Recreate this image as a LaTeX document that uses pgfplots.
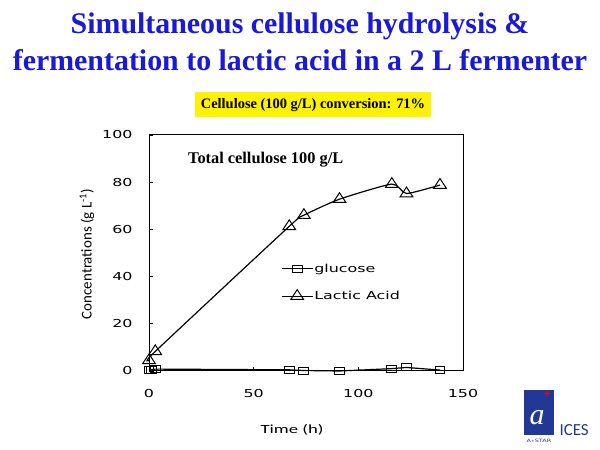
\documentclass[border=0pt]{standalone}
\usepackage{fontspec}
\setmainfont{Liberation Serif}
\newfontfamily\verdw[FakeStretch=1.45]{DejaVu Sans}
\newfontfamily\calibw[FakeStretch=1.5]{Carlito}
\newfontfamily\calib{Carlito}
\usepackage{pgfplots}
\pgfplotsset{compat=1.18}
\definecolor{titleblue}{RGB}{25,25,215}
\definecolor{logoblue}{RGB}{35,55,150}

\begin{document}
\begin{tikzpicture}[x=1bp,y=1bp]
\path[use as bounding box] (0,0) rectangle (600,450);

% title
\node[titleblue, font=\bfseries\fontsize{30}{32}\selectfont] at (300,424) {Simultaneous cellulose hydrolysis \&};
\node[titleblue, font=\bfseries\fontsize{30}{32}\selectfont] at (300,390) {fermentation to lactic acid in a 2 L fermenter};

\node[fill=yellow, minimum width=236bp, minimum height=25bp, inner sep=0pt,
      font=\bfseries\fontsize{14.5}{14.5}\selectfont] at (313,345) {Cellulose (100 g/L) conversion: 71\%};

\begin{axis}[
    at={(149bp,79bp)}, anchor=south west,
    scale only axis, width=314bp, height=236bp,
    xmin=0, xmax=150, ymin=0, ymax=100,
    xtick={0,50,100,150}, ytick={0,20,40,60,80,100},
    tick align=inside, xtick pos=bottom, ytick pos=left,
    major tick length=4bp,
    axis line style={line width=1pt},
    tick style={black, line width=0.6pt},
    /pgf/number format/assume math mode=true,
    ticklabel style={font=\verdw\fontsize{11}{11}\selectfont},
    xticklabel style={yshift=-15bp},
    yticklabel style={xshift=-13bp},
    legend style={at={(rel axis cs:0.42,0.455)}, anchor=north west, draw=none, fill=none,
                  font=\verdw\fontsize{11}{11}\selectfont, row sep=16bp,
                  inner sep=0pt, nodes={inner xsep=1pt, inner ysep=0pt}},
    legend cell align=left,
    legend image code/.code={
        \draw[#1, mark repeat=2, mark phase=2] plot coordinates {(0bp,0bp) (15.5bp,0bp) (31bp,0bp)};
    },
    clip=false
]
\addplot[black, line width=1.2pt, mark=square, mark size=3.5pt,
         mark options={fill=white, line width=1pt, xscale=1.43}] coordinates {
    (0,0.4) (1,0.6) (3,0.8) (67,0.5) (74,0.2) (91,0.0) (116,1.0) (123,1.5) (139,0.4)
};
\addlegendentry{glucose}
\addplot[black, line width=1.2pt, smooth, tension=0.35, mark=triangle, mark size=6.5pt,
         mark options={fill=white, line width=1pt, xscale=1.13}] coordinates {
    (0,4.5) (3,8.3) (67,61.3) (74,66) (91,72.8) (116,79.2) (123,75.2) (139,78.8)
};
\addlegendentry{Lactic Acid}
\node[font=\bfseries\fontsize{16.4}{16.4}\selectfont, anchor=west] at (axis cs:17,89.5) {Total cellulose 100 g/L};
\end{axis}

\node[rotate=90, font=\calib\fontsize{15}{15}\selectfont] at (87,196) {Concentrations (g L\textsuperscript{-1})};
\node[font=\calibw\fontsize{12.5}{12.5}\selectfont] at (292,20) {Time (h)};

% logo
\fill[logoblue] (524,15) rectangle (554,60);
\node[white, font=\itshape\fontsize{30}{30}\selectfont] at (537,32) {a};
\node[red, font=\bfseries\fontsize{14}{14}\selectfont] at (547,55) {+};
\node[logoblue, font=\calib\fontsize{17}{17}\selectfont, anchor=west] at (556,20) {ICES};
\node[logoblue, font=\verdw\fontsize{4.5}{4.5}\selectfont] at (539,9) {A$\ast$STAR};
\end{tikzpicture}
\end{document}
